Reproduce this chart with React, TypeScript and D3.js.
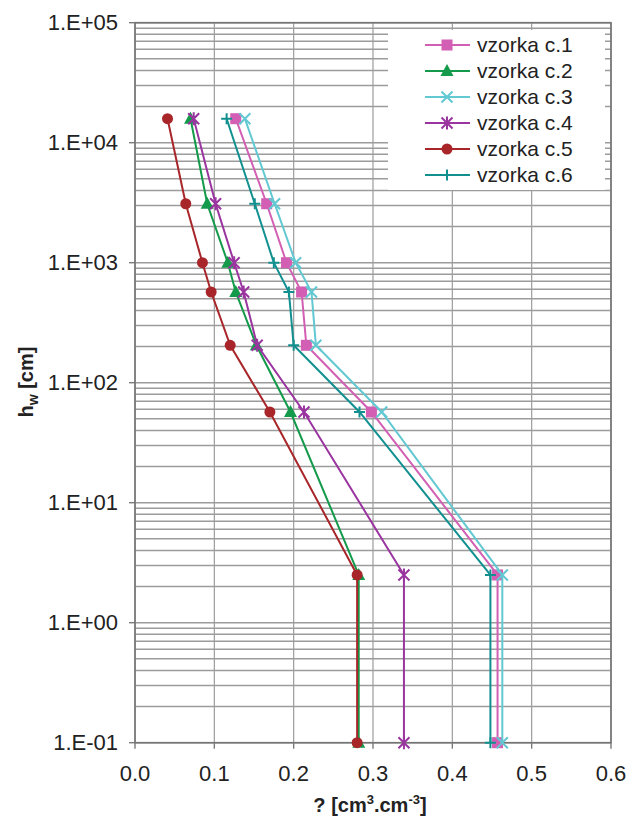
import React from 'react';
import * as d3 from 'd3';

// data
const heads = [15850, 3100, 1000, 570, 205, 57, 2.5, 0.1];
const seriesNames = ['vzorka c.1', 'vzorka c.2', 'vzorka c.3', 'vzorka c.4', 'vzorka c.5', 'vzorka c.6'];
const s1 = [0.127, 0.166, 0.191, 0.21, 0.216, 0.298, 0.457, 0.457];
const s2 = [0.07, 0.091, 0.117, 0.127, 0.153, 0.196, 0.282, 0.282];
const s3 = [0.1385, 0.176, 0.2025, 0.2225, 0.228, 0.311, 0.463, 0.463];
const s4 = [0.074, 0.1016, 0.125, 0.137, 0.154, 0.213, 0.339, 0.339];
const s5 = [0.041, 0.064, 0.085, 0.096, 0.12, 0.17, 0.28, 0.28];
const s6 = [0.1155, 0.151, 0.175, 0.194, 0.2, 0.283, 0.448, 0.448];
const xTicks = [0, 0.1, 0.2, 0.3, 0.4, 0.5, 0.6];
const yTicks = [1e5, 1e4, 1e3, 1e2, 1e1, 1, 0.1];
const yTickLabels = ['1.E+05', '1.E+04', '1.E+03', '1.E+02', '1.E+01', '1.E+00', '1.E-01'];

const colors = ['#d25fb4', '#139a4a', '#62c8d2', '#9a35a0', '#a8262a', '#129090'];
const markers = ['square', 'triangle', 'cross', 'star', 'circle', 'plus'];
const allSeries = [s1, s2, s3, s4, s5, s6];

const W = 644;
const H = 822;
const left = 135;
const right = 611;
const top = 22.7;
const bottom = 742.7;
const font = 'Arial, "Liberation Sans", sans-serif';

function Marker({ type, x, y, color }: { type: string; x: number; y: number; color: string }) {
  if (type === 'square') return <rect x={x - 5.5} y={y - 5.5} width={11} height={11} fill={color} />;
  if (type === 'triangle')
    return <path d={`M${x},${y - 7}L${x + 6.5},${y + 5}L${x - 6.5},${y + 5}Z`} fill={color} />;
  if (type === 'circle') return <circle cx={x} cy={y} r={5.5} fill={color} />;
  const s = 5.5;
  const xs = `M${x - s},${y - s}L${x + s},${y + s}M${x - s},${y + s}L${x + s},${y - s}`;
  const pl = `M${x - s},${y}L${x + s},${y}M${x},${y - s}L${x},${y + s}`;
  if (type === 'cross') return <path d={xs} stroke={color} strokeWidth={2} fill="none" />;
  if (type === 'star')
    return <path d={`${xs}M${x},${y - s - 1}L${x},${y + s + 1}`} stroke={color} strokeWidth={2} fill="none" />;
  return <path d={pl} stroke={color} strokeWidth={2} fill="none" />;
}

export default function App() {
  const xScale = d3.scaleLinear().domain([0, 0.6]).range([left, right]);
  const yScale = d3.scaleLog().domain([0.1, 1e5]).range([bottom, top]);
  const line = d3
    .line<[number, number]>()
    .x((d) => xScale(d[0]))
    .y((d) => yScale(d[1]));

  // minor log grid
  const minor: number[] = [];
  for (let e = -1; e < 5; e++) {
    for (let m = 1; m <= 9; m++) minor.push(m * Math.pow(10, e));
  }
  minor.push(1e5);

  const legX = 388;
  const legY = 30;
  const rowH = 26;

  return (
    <svg width={W} height={H} style={{ position: 'absolute', left: 0, top: 0, background: '#fff' }} fontFamily={font}>
      {/* grid */}
      {minor.map((v, i) => (
        <line key={'h' + i} x1={left} x2={right} y1={yScale(v)} y2={yScale(v)} stroke="#9c9c9c" strokeWidth={1.5} />
      ))}
      {xTicks.map((v, i) => (
        <line key={'v' + i} x1={xScale(v)} x2={xScale(v)} y1={top} y2={bottom} stroke="#9c9c9c" strokeWidth={1.2} />
      ))}
      {/* legend box */}
      <rect x={legX} y={legY} width={right - 6 - legX} height={160} fill="#fff" />
      {/* frame */}
      <rect x={left} y={top} width={right - left} height={bottom - top} fill="none" stroke="#747474" strokeWidth={1.6} />
      {/* y axis ticks */}
      {yTicks.map((v, i) => (
        <g key={'yt' + i}>
          <line x1={left - 6} x2={left} y1={yScale(v)} y2={yScale(v)} stroke="#7a7a7a" strokeWidth={1.4} />
          <text x={118} y={yScale(v)} dy="0.35em" textAnchor="end" fontSize={22} fill="#222">
            {yTickLabels[i]}
          </text>
        </g>
      ))}
      {/* x axis ticks */}
      {xTicks.map((v, i) => (
        <g key={'xt' + i}>
          <line x1={xScale(v)} x2={xScale(v)} y1={bottom} y2={bottom + 6} stroke="#7a7a7a" strokeWidth={1.4} />
          <text x={xScale(v)} y={bottom + 38} textAnchor="middle" fontSize={22} fill="#222">
            {d3.format('.1f')(v)}
          </text>
        </g>
      ))}
      {/* axis titles */}
      <text x={370} y={812} textAnchor="middle" fontSize={20} fontWeight="bold" fill="#222">
        ? [cm
        <tspan dy={-8} fontSize={13}>3</tspan>
        <tspan dy={8}>.cm</tspan>
        <tspan dy={-8} fontSize={13}>-3</tspan>
        <tspan dy={8}>]</tspan>
      </text>
      <text transform="translate(33,382) rotate(-90)" textAnchor="middle" fontSize={20} fontWeight="bold" fill="#222">
        h<tspan dy={5} fontSize={14}>w</tspan>
        <tspan dy={-5}> [cm]</tspan>
      </text>
      {/* series */}
      {allSeries.map((s, si) => {
        const pts: [number, number][] = s.map((v, i) => [v, heads[i]]);
        return (
          <g key={'s' + si}>
            <path d={line(pts) || ''} fill="none" stroke={colors[si]} strokeWidth={2} />
            {pts.map((p, i) => (
              <Marker key={i} type={markers[si]} x={xScale(p[0])} y={yScale(p[1])} color={colors[si]} />
            ))}
          </g>
        );
      })}
      {/* legend */}
      {seriesNames.map((n, i) => {
        const y = legY + 15 + i * rowH;
        return (
          <g key={'l' + i}>
            <line x1={425} x2={470} y1={y} y2={y} stroke={colors[i]} strokeWidth={2} />
            <Marker type={markers[i]} x={447} y={y} color={colors[i]} />
            <text x={477} y={y} dy="0.35em" fontSize={21} fill="#222">
              {n}
            </text>
          </g>
        );
      })}
    </svg>
  );
}
